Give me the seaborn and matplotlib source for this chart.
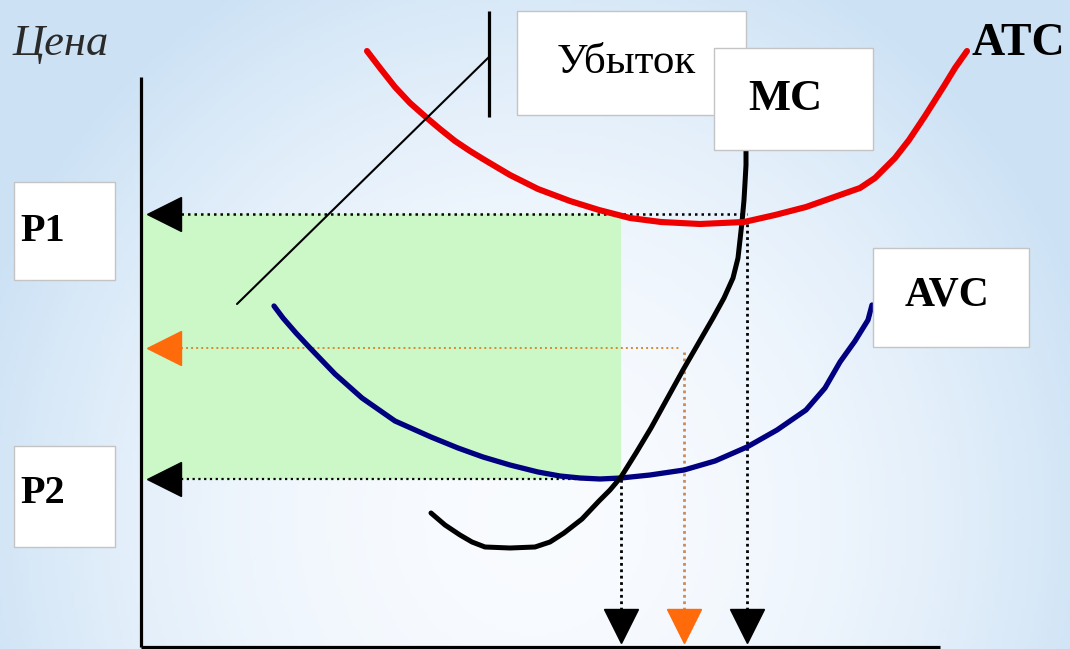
import numpy as np
import matplotlib
matplotlib.use("Agg")
import matplotlib.pyplot as plt
import seaborn as sns

# Кривые издержек (x - количество, y - цена, единицы = пиксели картинки, y вверх)
atc_q = [367, 380, 395, 410, 427, 440, 455, 470, 483, 510, 538, 570, 599, 630, 661,
         700, 744, 775, 806, 840, 860, 875, 895, 909, 925, 944, 955, 967]
atc_px = [51, 68, 87, 103, 118, 129, 141, 151, 159, 175, 189, 201, 210, 218, 222,
          224, 222, 215, 207, 195, 188, 178, 158, 140, 116, 86, 68, 51]
atc_p = [649 - v for v in atc_px]

mc_q = [431, 445, 460, 472, 485, 510, 535, 550, 564, 582, 599, 610, 621, 636, 651,
        667, 683, 698, 713, 724, 733, 738, 742, 744, 745, 746, 746]
mc_px = [513, 525, 535, 542, 547, 548, 547, 542, 533, 519, 501, 490, 477, 453, 428,
         399, 370, 344, 318, 298, 278, 258, 222, 200, 183, 165, 149]
mc_p = [649 - v for v in mc_px]

avc_q = [274, 283, 296, 310, 335, 362, 395, 431, 458, 483, 510, 538, 560, 580, 600,
         621, 650, 684, 715, 747, 777, 806, 825, 840, 855, 868, 872]
avc_px = [306, 318, 333, 348, 374, 398, 421, 437, 448, 457, 465, 472, 476, 478, 479,
          478, 475, 470, 461, 447, 430, 410, 388, 362, 341, 320, 305]
avc_p = [649 - v for v in avc_px]

# уровни цен и объемов
p1, p_mid, p2 = 435, 301, 170
q2, q_mid, q1 = 621, 684, 747

# оси
origin_q, origin_p = 141, 2
axis_top, axis_right = 572, 940

# выноска "Убыток"
pointer_q = [237, 489]
pointer_p = [345, 592]
bar_q, bar_lo, bar_hi = 489, 532, 638

# белые рамки: x0, x1, y0, y1
boxes = {
    "ub": (517, 746, 534, 638),
    "mc": (714, 873, 499, 601),
    "avc": (873, 1029, 302, 401),
    "p1": (14, 115, 369, 467),
    "p2": (14, 115, 102, 203),
}

sns.set_theme(style="white")
plt.rcParams["font.family"] = ["Liberation Serif", "DejaVu Serif"]

fig = plt.figure(figsize=(10.7, 6.49), dpi=100)
ax = fig.add_axes([0, 0, 1, 1])
ax.set_xlim(0, 1070)
ax.set_ylim(0, 649)
ax.axis("off")

# фон - голубой градиент
h, w = 200, 330
yy, xx = np.mgrid[0:1:h * 1j, 0:1:w * 1j]
d = np.sqrt(((xx - 0.5) / 0.55) ** 2 + ((yy - 0.2) / 0.95) ** 2)
blend = np.clip(d, 0, 1) ** 2.0
white = np.array([0.975, 0.985, 1.0])
blue = np.array([0.80, 0.885, 0.96])
bg = white * (1 - blend[..., None]) + blue * blend[..., None]
ax.imshow(bg, extent=[0, 1070, 0, 649], origin="lower", aspect="auto", zorder=0)

# зеленая область убытка
ax.fill_between([origin_q + 2, q2], p2, p1, color="#ccf8c8", zorder=1, lw=0)

# пунктирные линии
ax.hlines(p1, 181, q1, colors="black", lw=1.8, linestyles=(0, (1, 1.6)), zorder=2)
ax.hlines(p2, 181, q2, colors="black", lw=1.6, linestyles=(0, (1, 1.6)), zorder=2)
ax.hlines(p_mid, 181, q_mid - 4, colors="#d98a30", lw=1.4, linestyles=(0, (1, 1.6)), zorder=2)
ax.vlines(q1, 39, p1 - 8, colors="black", lw=2.0, linestyles=(0, (1, 1.3)), zorder=2)
ax.vlines(q2, 39, p2, colors="black", lw=2.0, linestyles=(0, (1, 1.3)), zorder=2)
ax.vlines(q_mid, 39, p_mid - 4, colors="#c98a5c", lw=2.0, linestyles=(0, (1, 1.3)), zorder=2)

# стрелки
ax.plot([origin_q + 6 + 17] * 2, [p1, p2], ls="none", marker="<", ms=24.5, color="black", zorder=5)
ax.plot([origin_q + 6 + 17], [p_mid], ls="none", marker="<", ms=24.5, color="#ff6a0a", zorder=5)
ax.plot([q2, q1], [6 + 17] * 2, ls="none", marker="v", ms=24.5, color="black", zorder=5)
ax.plot([q_mid], [6 + 17], ls="none", marker="v", ms=24.5, color="#ff6a0a", zorder=5)

# кривые
kw = dict(ax=ax, sort=False, estimator=None, zorder=3, solid_joinstyle="round")
sns.lineplot(x=avc_q, y=avc_p, color="#000080", lw=3.8, **kw)
sns.lineplot(x=mc_q, y=mc_p, color="black", lw=3.6, **kw)
sns.lineplot(x=atc_q, y=atc_p, color="#ee0000", lw=4.4, **kw)

# оси
ax.vlines(origin_q, origin_p, axis_top, colors="black", lw=2.3, zorder=4)
ax.hlines(origin_p, origin_q, axis_right, colors="black", lw=2.3, zorder=4)

# выноска
ax.plot(pointer_q, pointer_p, color="black", lw=1.5, zorder=4)
ax.vlines(bar_q, bar_lo, bar_hi, colors="black", lw=2.3, zorder=4)

# белые рамки
for key in ["ub", "mc", "avc", "p1", "p2"]:
    x0, x1, y0, y1 = boxes[key]
    ax.fill_between([x0, x1], y0, y1, facecolor="white", edgecolor="#c4c4c4", lw=1.0, zorder=6)

# подписи
ax.text(13, 594, "Цена", fontsize=32, style="italic", color="#2a2a2a", va="baseline", zorder=7)
ax.text(626, 576, "Убыток", fontsize=31, ha="center", va="baseline", color="black", zorder=7)
ax.text(785, 539, "MC", fontsize=32, weight="bold", ha="center", va="baseline", color="black", zorder=7)
ax.text(972, 594, "ATC", fontsize=33, weight="bold", ha="left", va="baseline", color="black", zorder=7)
ax.text(947, 344, "AVC", fontsize=30, weight="bold", ha="center", va="baseline", color="black", zorder=7)
ax.text(43, 408, "P1", fontsize=29, weight="bold", ha="center", va="baseline", color="black", zorder=7)
ax.text(43, 146, "P2", fontsize=29, weight="bold", ha="center", va="baseline", color="black", zorder=7)

fig.savefig("out.png", dpi=100)
